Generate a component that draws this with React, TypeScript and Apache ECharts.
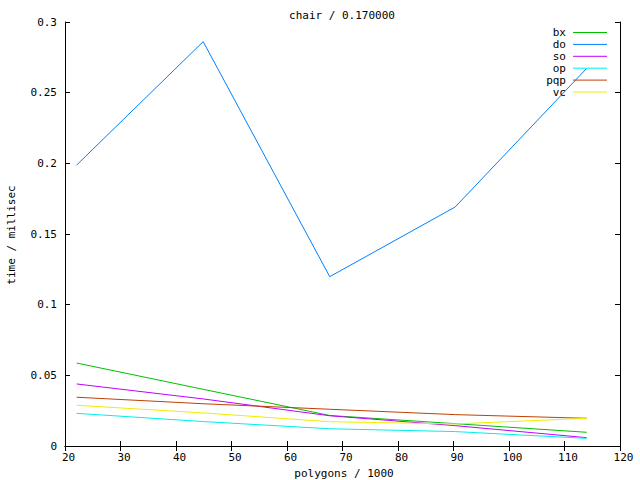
import React, { useEffect, useRef } from "react";
import * as echarts from "echarts";

const xValues = [22.1, 44.9, 67.7, 90.3, 114.0];
const bx = [0.0587, 0.0401, 0.0216, 0.0158, 0.0097];
const doS = [0.1988, 0.2861, 0.1198, 0.1691, 0.2672];
const so = [0.0439, 0.0333, 0.0214, 0.0144, 0.0059];
const op = [0.0231, 0.0173, 0.0122, 0.0102, 0.0054];
const pqp = [0.0345, 0.0299, 0.026, 0.0222, 0.0196];
const vc = [0.0288, 0.0234, 0.0172, 0.0156, 0.0196];

const seriesNames = ["bx", "do", "so", "op", "pqp", "vc"];
const seriesData = [bx, doS, so, op, pqp, vc];
const colors = ["#00c000", "#0080ff", "#c000ff", "#00eeee", "#c04000", "#eeee00"];

const title = "chair / 0.170000";
const xName = "polygons / 1000";
const yName = "time / millisec";

const FONT = "DejaVu Sans Mono";

export default function App() {
  const ref = useRef<HTMLDivElement>(null);
  useEffect(() => {
    if (!ref.current) return;
    const chart = echarts.init(ref.current, null, { renderer: "svg" });
    const axisCommon = {
      type: "value" as const,
      axisLine: { show: true, lineStyle: { color: "#000", width: 1 } },
      axisTick: { show: true, inside: true, length: 5, lineStyle: { color: "#000" } },
      splitLine: { show: false },
    };
    const labelStyle = { color: "#000", fontFamily: FONT, fontSize: 11 };
    const legendGraphics: any[] = [];
    seriesNames.forEach((n, i) => {
      const y = 32.5 + i * 11.9;
      legendGraphics.push({
        type: "text",
        x: 566,
        y,
        style: { text: n, fill: "#000", font: `11px "${FONT}"`, textAlign: "right", textVerticalAlign: "middle" },
        z: 100,
      });
      legendGraphics.push({
        type: "line",
        shape: { x1: 573, y1: y, x2: 607, y2: y },
        style: { stroke: colors[i], lineWidth: 1 },
        z: 100,
      });
    });
    chart.setOption({
      animation: false,
      backgroundColor: "#fff",
      grid: { left: 65, right: 20, top: 22, bottom: 34, containLabel: false },
      xAxis: [
        {
          ...axisCommon,
          position: "bottom",
          min: 20,
          max: 120,
          interval: 10,
          axisLabel: { ...labelStyle, margin: 6, padding: [0, 0, 0, 7] },
        },
        {
          ...axisCommon,
          position: "top",
          min: 20,
          max: 120,
          interval: 10,
          axisLabel: { show: false },
        },
      ],
      yAxis: [
        {
          ...axisCommon,
          position: "left",
          min: 0,
          max: 0.3,
          interval: 0.05,
          axisLabel: { ...labelStyle, margin: 8 },
        },
        {
          ...axisCommon,
          position: "right",
          min: 0,
          max: 0.3,
          interval: 0.05,
          axisLabel: { show: false },
        },
      ],
      series: seriesNames.map((n, i) => ({
        name: n,
        type: "line",
        data: xValues.map((x, j) => [x, seriesData[i][j]]),
        showSymbol: false,
        symbol: "none",
        lineStyle: { color: colors[i], width: 1 },
        itemStyle: { color: colors[i] },
        xAxisIndex: 0,
        yAxisIndex: 0,
        z: 2 + i,
      })),
      graphic: [
        {
          type: "text",
          x: 342,
          y: 15.5,
          style: { text: title, fill: "#000", font: `11px "${FONT}"`, textAlign: "center", textVerticalAlign: "middle" },
        },
        {
          type: "text",
          x: 344,
          y: 473,
          style: { text: xName, fill: "#000", font: `11px "${FONT}"`, textAlign: "center", textVerticalAlign: "middle" },
        },
        {
          type: "text",
          x: 11.5,
          y: 235,
          rotation: Math.PI / 2,
          style: { text: yName, fill: "#000", font: `11px "${FONT}"`, textAlign: "center", textVerticalAlign: "middle" },
        },
        ...legendGraphics,
      ],
    });
    return () => chart.dispose();
  }, []);
  return (
    <div
      ref={ref}
      style={{ position: "fixed", left: 0, top: 0, width: 640, height: 480, background: "#fff" }}
    />
  );
}
